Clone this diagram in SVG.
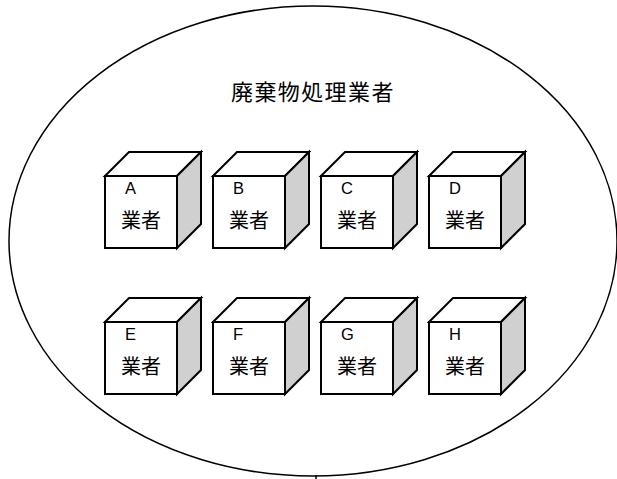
<svg xmlns="http://www.w3.org/2000/svg" width="617" height="479" viewBox="0 0 617 479">
<defs>
<style>
.frame{fill:#fff;stroke:#000;stroke-width:1.5}
.front{fill:#fff;stroke:#000;stroke-width:2}
.top{fill:#fff;stroke:#000;stroke-width:2;stroke-linejoin:miter}
.side{fill:#d0d0d0;stroke:#000;stroke-width:2}
.let{font-family:"Liberation Sans",Arial,sans-serif;font-size:16.5px;fill:#000}
.jp{font-family:"Noto Sans CJK JP","Noto Sans CJK SC",sans-serif;font-size:20px;fill:#000}
.title{font-family:"Noto Sans CJK JP","Noto Sans CJK SC",sans-serif;font-size:22px;fill:#000;letter-spacing:1.4px}
</style>
<g id="cube">
<polygon class="top" points="0,0 24,-24 96,-24 72,0"/>
<polygon class="side" points="72,0 96,-24 96,48 72,72"/>
<rect class="front" x="0" y="0" width="72" height="72"/>
<text class="jp" x="16" y="52">業者</text>
</g>
</defs>
<ellipse class="frame" cx="313" cy="241" rx="304" ry="235"/>
<line x1="316" y1="475" x2="316" y2="479" stroke="#000" stroke-width="1.5"/>
<text class="title" x="231" y="100">廃棄物処理業者</text>
<g id="nodeA"><use href="#cube" x="105" y="176"/><text class="let" x="125" y="194">A</text></g>
<g id="nodeB"><use href="#cube" x="213" y="176"/><text class="let" x="233" y="194">B</text></g>
<g id="nodeC"><use href="#cube" x="321" y="176"/><text class="let" x="341" y="194">C</text></g>
<g id="nodeD"><use href="#cube" x="429" y="176"/><text class="let" x="449" y="194">D</text></g>
<g id="nodeE"><use href="#cube" x="105" y="322"/><text class="let" x="125" y="340">E</text></g>
<g id="nodeF"><use href="#cube" x="213" y="322"/><text class="let" x="233" y="340">F</text></g>
<g id="nodeG"><use href="#cube" x="321" y="322"/><text class="let" x="341" y="340">G</text></g>
<g id="nodeH"><use href="#cube" x="429" y="322"/><text class="let" x="449" y="340">H</text></g>
<g id="connectors"></g>
</svg>
